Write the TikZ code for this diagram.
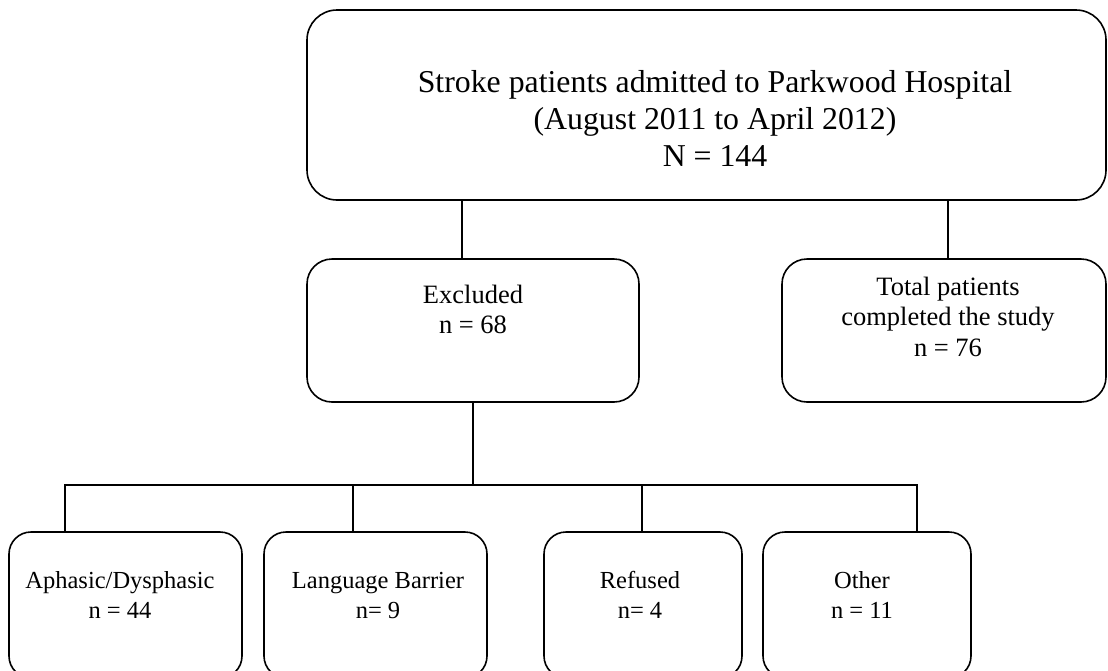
\documentclass[tikz,border=0pt]{standalone}
\usepackage{fontspec}
\setmainfont{Liberation Serif}
\begin{document}
\begin{tikzpicture}[x=1pt,y=-1pt,
  box/.style={draw=black,line width=1.6pt,rectangle,inner sep=0pt},
  conn/.style={draw=black,line width=1.6pt},
  toptxt/.style={anchor=north,inner sep=0pt,align=center,font=\fontsize{31.8}{37}\selectfont},
  midtxt/.style={anchor=north,inner sep=0pt,align=center,font=\fontsize{26.5}{30.8}\selectfont},
  bottxt/.style={anchor=north,inner sep=0pt,align=center,font=\fontsize{24.5}{30}\selectfont}]
\useasboundingbox (0,0) rectangle (1108,670);
\clip (0,0) rectangle (1108,670);
% boxes
\node[box,rounded corners=30pt,minimum width=799pt,minimum height=190pt] (top) at (706.5,105) {};
\node[box,rounded corners=25pt,minimum width=332pt,minimum height=143pt] (excl) at (473,330.5) {};
\node[box,rounded corners=25pt,minimum width=324pt,minimum height=143pt] (total) at (944,330.5) {};
\node[box,rounded corners=22pt,minimum width=233pt,minimum height=146pt] (b1) at (125.5,605) {};
\node[box,rounded corners=22pt,minimum width=223pt,minimum height=146pt] (b2) at (375.5,605) {};
\node[box,rounded corners=22pt,minimum width=198pt,minimum height=146pt] (b3) at (643,605) {};
\node[box,rounded corners=22pt,minimum width=208pt,minimum height=146pt] (b4) at (867,605) {};
% texts
\node[toptxt] (ttop) at (715,66.1) {\strut Stroke patients admitted to Parkwood Hospital\\(August 2011 to April 2012)\\N = 144};
\node[midtxt] (texcl) at (473,281.4) {\strut Excluded\\n = 68};
\node[midtxt] (ttotal) at (948,273.4) {\strut Total patients\\completed the study\\n = 76};
\node[bottxt] (tb1) at (120,567) {\strut Aphasic/Dysphasic\\n = 44};
\node[bottxt] (tb2) at (378,567) {\strut Language Barrier\\n= 9};
\node[bottxt] (tb3) at (640,567) {\strut Refused\\n= 4};
\node[bottxt] (tb4) at (862,567) {\strut Other\\n = 11};
% connector coordinates
\coordinate (j1) at (462,0);
\coordinate (j2) at (948,0);
\coordinate (bus) at (0,485);
\coordinate (t1) at (65,485);
\coordinate (t2) at (353,485);
\coordinate (t3) at (642,485);
\coordinate (t4) at (917,485);
% connectors
\draw[conn] (top.south -| j1) -- (excl.north -| j1);
\draw[conn] (top.south -| j2) -- (total.north -| j2);
\draw[conn] (excl.south) -- (excl.south |- bus);
\draw[conn,line cap=rect] (t1) -- (t4);
\draw[conn] (t1) -- (b1.north -| t1);
\draw[conn] (t2) -- (b2.north -| t2);
\draw[conn] (t3) -- (b3.north -| t3);
\draw[conn] (t4) -- (b4.north -| t4);
\end{tikzpicture}
\end{document}
